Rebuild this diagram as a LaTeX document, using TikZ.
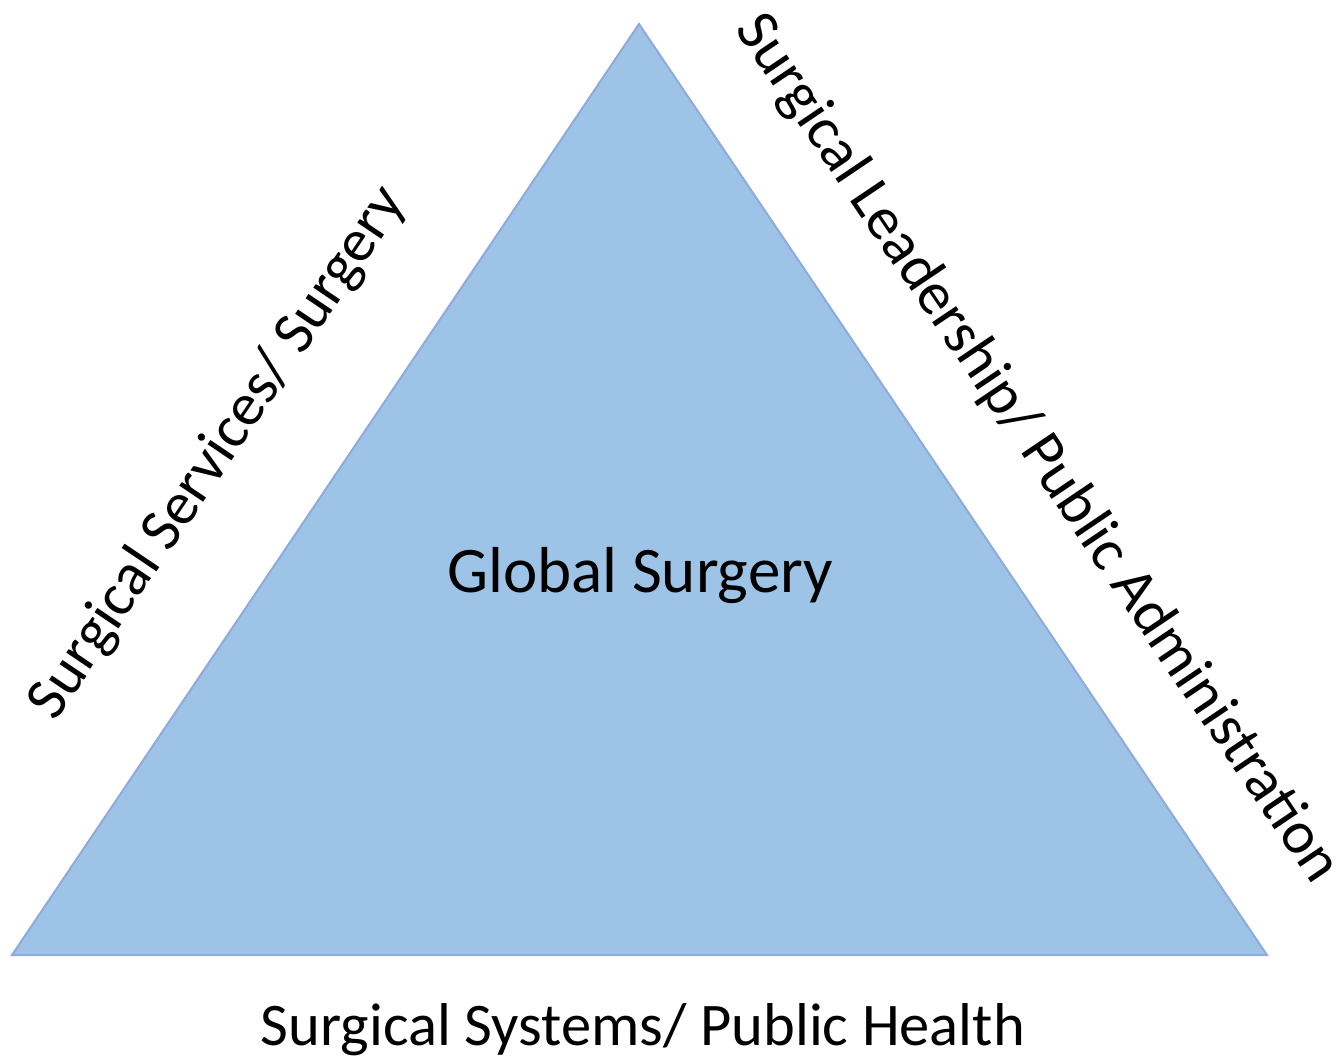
\documentclass[tikz,border=0pt]{standalone}
\usepackage{fontspec}
\setmainfont{Carlito}
\definecolor{trifill}{HTML}{9DC3E6}
\definecolor{triline}{HTML}{8FAADC}
\begin{document}
\begin{tikzpicture}[x=1pt,y=-1pt,
  lbl/.style={inner sep=0pt, font=\fontsize{60.5}{72}\selectfont, text=black},
  biglbl/.style={inner sep=0pt, font=\fontsize{65}{78}\selectfont, text=black}]
\useasboundingbox (0,0) rectangle (1344,1060);
\coordinate (apex) at (639,24);
\coordinate (bl) at (12,955);
\coordinate (br) at (1267,955);
\filldraw[fill=trifill, draw=triline, line width=2pt, line join=miter] (apex) -- (br) -- (bl) -- cycle;
\node[biglbl] (center) at (640,576) {Global Surgery};
\node[lbl, rotate=56] (left) at (218,453) {Surgical Services/ Surgery};
\node[lbl, rotate=-56] (right) at (1037,449) {Surgical Leadership/ Public Administration};
\node[lbl] (bottom) at (643,1030) {Surgical Systems/ Public Health};
\end{tikzpicture}
\end{document}
